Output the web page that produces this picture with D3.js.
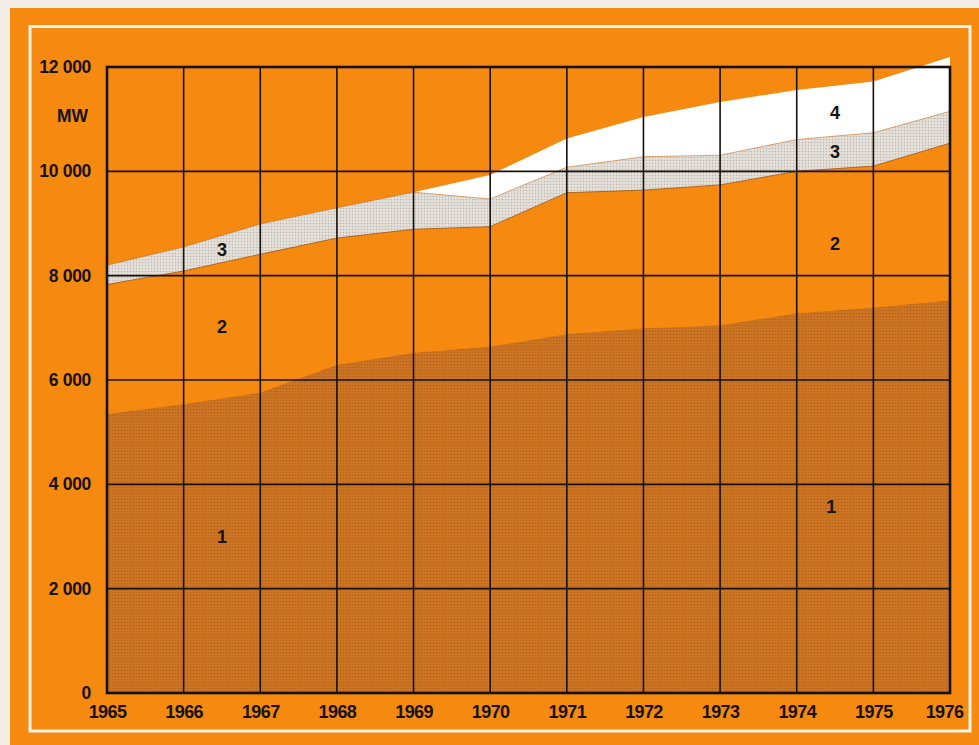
<!DOCTYPE html>
<html>
<head>
<meta charset="utf-8">
<script src="https://cdn.jsdelivr.net/npm/d3@7"></script>
<style>
  html, body { margin: 0; padding: 0; background: #f4f1ea; }
  svg { display: block; }
  text { font-family: "Liberation Sans", Arial, sans-serif; font-weight: bold; fill: #161210; }
</style>
</head>
<body>
<svg id="chart" width="979" height="745"></svg>
<script>
// ---- data ----
const years   = [1965, 1966, 1967, 1968, 1969, 1970, 1971, 1972, 1973, 1974, 1975, 1976];
const series1 = [5350, 5540, 5760, 6290, 6520, 6640, 6880, 6990, 7050, 7280, 7390, 7530];
const series2 = [2480, 2550, 2650, 2430, 2370, 2300, 2710, 2650, 2690, 2720, 2710, 3010];
const series3 = [ 370,  460,  580,  580,  710,  530,  490,  640,  570,  610,  640,  610];
const series4 = [   0,    0,    0,    0,    0,  460,  550,  760, 1020,  950,  980, 1040];
const yTicks  = [0, 2000, 4000, 6000, 8000, 10000, 12000];
const seriesKeys = ["s1", "s2", "s3", "s4"];
const unitLabel = "MW";
const bandLabels = [
  {t: "1", year: 1966.5, v: 2990}, {t: "2", year: 1966.5, v: 7020}, {t: "3", year: 1966.5, v: 8490},
  {t: "1", year: 1974.45, v: 3570}, {t: "2", year: 1974.5, v: 8610}, {t: "3", year: 1974.5, v: 10370},
  {t: "4", year: 1974.5, v: 11120}
];

// ---- styles ----
const colors = {s1: "#c8711f", s2: "#f6890f", s3: "#dad6d0", s4: "#ffffff"};
const svg = d3.select("#chart");

// background paper + orange panel + white frame
svg.append("rect").attr("x", 0).attr("y", 0).attr("width", 979).attr("height", 745).attr("fill", "#f2eee6");
svg.append("rect").attr("x", 10).attr("y", 8).attr("width", 969).attr("height", 737).attr("fill", colors.s2);
svg.append("rect").attr("x", 30).attr("y", 26.5).attr("width", 940).attr("height", 704.5)
  .attr("fill", "none").attr("stroke", "#fbf3e6").attr("stroke-width", 3);

const x = d3.scaleLinear().domain([1965, 1976]).range([107, 950]);
const y = d3.scaleLinear().domain([0, 12000]).range([693, 67]);

const table = years.map((yr, i) => ({year: yr, s1: series1[i], s2: series2[i], s3: series3[i], s4: series4[i]}));
const stacked = d3.stack().keys(seriesKeys)(table);

const area = d3.area()
  .x(d => x(d.data.year))
  .y0(d => y(d[0]))
  .y1(d => y(d[1]));

// dots pattern for stipple look
const defs = svg.append("defs");
const pat1 = defs.append("pattern").attr("id", "p1").attr("width", 3).attr("height", 3).attr("patternUnits", "userSpaceOnUse");
pat1.append("rect").attr("width", 3).attr("height", 3).attr("fill", "#cd7420");
pat1.append("circle").attr("cx", 1.5).attr("cy", 1.5).attr("r", 0.8).attr("fill", "#a55d1e").attr("opacity", 0.7);
const pat3 = defs.append("pattern").attr("id", "p3").attr("width", 3).attr("height", 3).attr("patternUnits", "userSpaceOnUse");
pat3.append("rect").attr("width", 3).attr("height", 3).attr("fill", "#e2ded8");
pat3.append("circle").attr("cx", 1.5).attr("cy", 1.5).attr("r", 0.7).attr("fill", "#a8a29a").attr("opacity", 0.7);

const fills = {s1: "url(#p1)", s2: colors.s2, s3: "url(#p3)", s4: colors.s4};

svg.append("g").selectAll("path").data(stacked).join("path")
  .attr("d", area)
  .attr("fill", d => fills[d.key]);

// thin brownish edges around band 3
const edge = d3.line().x(d => x(d.data.year)).y(d => y(d[1]));
svg.append("path").datum(stacked[1]).attr("d", edge).attr("fill", "none").attr("stroke", "#b0661f").attr("stroke-width", 1);
svg.append("path").datum(stacked[2]).attr("d", edge).attr("fill", "none").attr("stroke", "#b0661f").attr("stroke-width", 0.8).attr("opacity", 0.6);

// grid
const grid = svg.append("g").attr("stroke", "#15110e");
grid.selectAll("line.v").data(years.slice(1, -1)).join("line")
  .attr("x1", d => x(d)).attr("x2", d => x(d)).attr("y1", y(0)).attr("y2", y(12000)).attr("stroke-width", 1.6);
grid.selectAll("line.h").data(yTicks.slice(1, -1)).join("line")
  .attr("x1", x(1965)).attr("x2", x(1976)).attr("y1", d => y(d)).attr("y2", d => y(d)).attr("stroke-width", 1.6);
// frame
svg.append("rect").attr("x", x(1965)).attr("y", y(12000)).attr("width", x(1976) - x(1965)).attr("height", y(0) - y(12000))
  .attr("fill", "none").attr("stroke", "#15110e").attr("stroke-width", 2.6);

// axes
const fmt = d => d === 0 ? "0" : d3.format(",")(d).replace(",", " ");
const yAxis = svg.append("g").attr("transform", `translate(${x(1965)},0)`)
  .call(d3.axisLeft(y).tickValues(yTicks).tickSize(0).tickPadding(16).tickFormat(fmt));
yAxis.select(".domain").remove();
yAxis.selectAll("text").style("font-size", "17.5px").style("font-family", '"Liberation Sans", Arial, sans-serif')
  .style("font-weight", "bold").attr("fill", "#161210").attr("letter-spacing", "-0.3");

const xAxis = svg.append("g").attr("transform", `translate(0,${y(0)})`)
  .call(d3.axisBottom(x).tickValues(years).tickSize(0).tickPadding(12).tickFormat(d3.format("d")));
xAxis.select(".domain").remove();
xAxis.selectAll("text").style("font-size", "18px").style("font-family", '"Liberation Sans", Arial, sans-serif')
  .style("font-weight", "bold").attr("fill", "#161210").attr("letter-spacing", "-0.6")
  .attr("dx", d => d === years[years.length - 1] ? -6 : 0);

svg.append("text").attr("x", 88).attr("y", 121.5).attr("text-anchor", "end")
  .style("font-size", "17.5px").text(unitLabel);

// band labels
svg.append("g").selectAll("text").data(bandLabels).join("text")
  .attr("x", d => x(d.year)).attr("y", d => y(d.v))
  .attr("text-anchor", "middle").attr("dominant-baseline", "central")
  .style("font-size", "18px").text(d => d.t);
</script>
</body>
</html>
